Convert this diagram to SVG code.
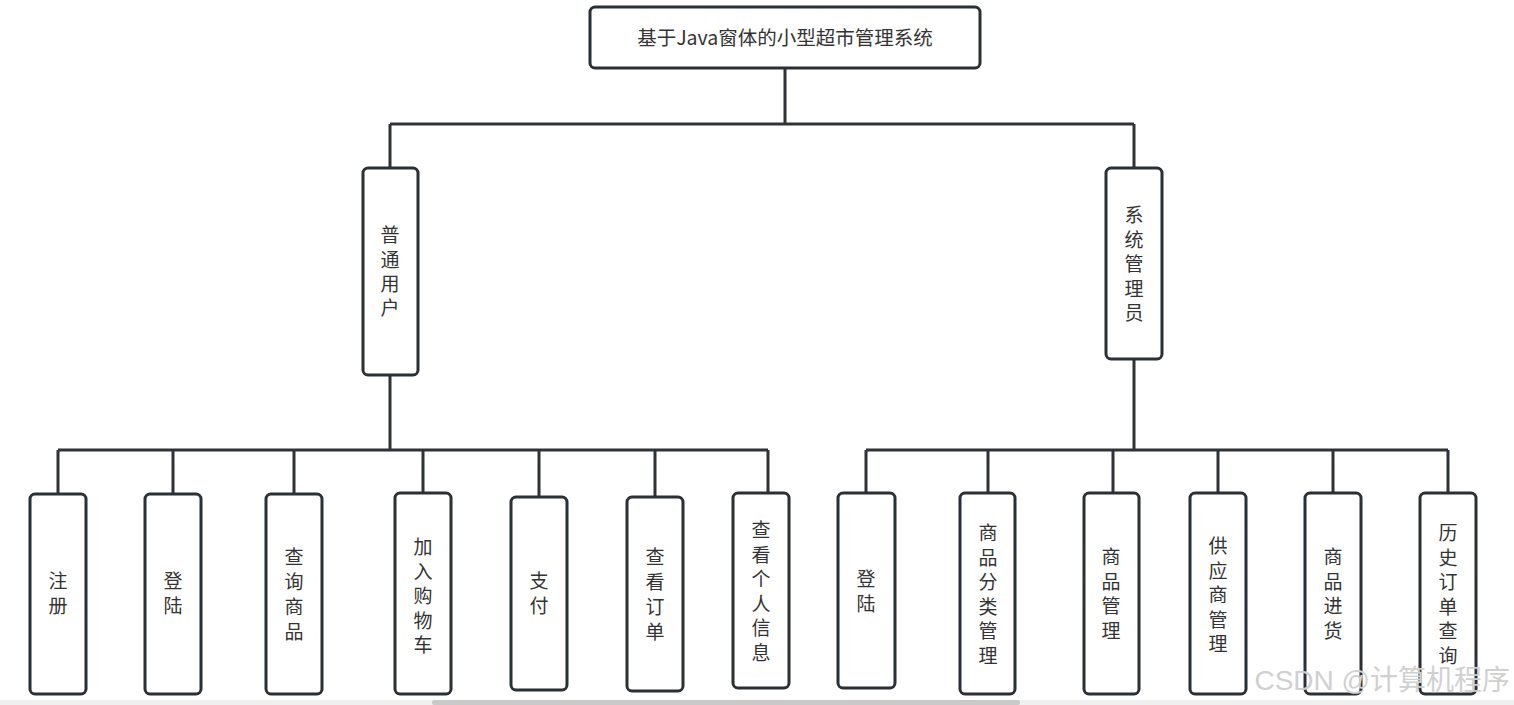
<svg xmlns="http://www.w3.org/2000/svg" width="1514" height="705" viewBox="0 0 1514 705">
<style>
.box{fill:#fff;stroke:#2b3036;stroke-width:3}
.ln{stroke:#2f3236;stroke-width:3;fill:none}
.t{font-family:"Noto Sans CJK SC","Noto Sans",sans-serif;font-size:19px;fill:#333;text-anchor:middle}
.title{font-family:"Noto Sans CJK SC","Noto Sans",sans-serif;font-size:19.5px;fill:#333;text-anchor:middle}
</style>
<rect width="1514" height="705" fill="#fff"/>
<g id="connectors">
<path class="ln" d="M785 68V124M390 124H1134M390 124V168M1134 124V168"/>
<path class="ln" d="M390 375V450M58 450H768M58 450V494M173 450V494M294 450V494M423 450V493M539 450V497M655 450V497M768 450V493"/>
<path class="ln" d="M1134 359V450M866 450H1448M866 450V493M988 450V493M1113 450V493M1218 450V493M1333 450V493M1448 450V493"/>
</g>
<g id="root"><rect class="box" x="590" y="7" width="390" height="61" rx="5"/><text class="title" x="785" y="45">基于Java窗体的小型超市管理系统</text></g>
<g id="user"><rect class="box" x="363" y="168" width="55" height="207" rx="5"/><text class="t" x="390"><tspan x="390" y="242">普</tspan><tspan x="390" y="267">通</tspan><tspan x="390" y="291">用</tspan><tspan x="390" y="315">户</tspan></text></g>
<g id="admin"><rect class="box" x="1106" y="168" width="56" height="191" rx="5"/><text class="t"><tspan x="1134" y="222">系</tspan><tspan x="1134" y="246.5">统</tspan><tspan x="1134" y="271">管</tspan><tspan x="1134" y="295.5">理</tspan><tspan x="1134" y="320">员</tspan></text></g>
<g id="u1"><rect class="box" x="30" y="494" width="56" height="200" rx="5"/><text class="t"><tspan x="58" y="588">注</tspan><tspan x="58" y="613">册</tspan></text></g>
<g id="u2"><rect class="box" x="145" y="494" width="56" height="200" rx="5"/><text class="t"><tspan x="173" y="588">登</tspan><tspan x="173" y="613">陆</tspan></text></g>
<g id="u3"><rect class="box" x="266" y="494" width="56" height="200" rx="5"/><text class="t"><tspan x="294" y="564">查</tspan><tspan x="294" y="589">询</tspan><tspan x="294" y="614">商</tspan><tspan x="294" y="639">品</tspan></text></g>
<g id="u4"><rect class="box" x="395" y="493" width="56" height="201" rx="5"/><text class="t"><tspan x="423" y="554">加</tspan><tspan x="423" y="578.5">入</tspan><tspan x="423" y="603">购</tspan><tspan x="423" y="627.5">物</tspan><tspan x="423" y="652">车</tspan></text></g>
<g id="u5"><rect class="box" x="511" y="497" width="56" height="193" rx="5"/><text class="t"><tspan x="539" y="588">支</tspan><tspan x="539" y="613">付</tspan></text></g>
<g id="u6"><rect class="box" x="627" y="497" width="56" height="194" rx="5"/><text class="t"><tspan x="655" y="564">查</tspan><tspan x="655" y="589">看</tspan><tspan x="655" y="614">订</tspan><tspan x="655" y="638.5">单</tspan></text></g>
<g id="u7"><rect class="box" x="733" y="493" width="56" height="195" rx="5"/><text class="t"><tspan x="761" y="537">查</tspan><tspan x="761" y="561.5">看</tspan><tspan x="761" y="586">个</tspan><tspan x="761" y="610.5">人</tspan><tspan x="761" y="635">信</tspan><tspan x="761" y="659.5">息</tspan></text></g>
<g id="a1"><rect class="box" x="838" y="493" width="57" height="195" rx="5"/><text class="t"><tspan x="866" y="586">登</tspan><tspan x="866" y="611">陆</tspan></text></g>
<g id="a2"><rect class="box" x="960" y="493" width="55" height="201" rx="5"/><text class="t"><tspan x="988" y="540">商</tspan><tspan x="988" y="564.5">品</tspan><tspan x="988" y="589">分</tspan><tspan x="988" y="613.5">类</tspan><tspan x="988" y="638">管</tspan><tspan x="988" y="662.5">理</tspan></text></g>
<g id="a3"><rect class="box" x="1084" y="493" width="55" height="201" rx="5"/><text class="t"><tspan x="1111" y="564">商</tspan><tspan x="1111" y="588.5">品</tspan><tspan x="1111" y="613">管</tspan><tspan x="1111" y="637.5">理</tspan></text></g>
<g id="a4"><rect class="box" x="1190" y="493" width="56" height="201" rx="5"/><text class="t"><tspan x="1218" y="553">供</tspan><tspan x="1218" y="577.5">应</tspan><tspan x="1218" y="602">商</tspan><tspan x="1218" y="626.5">管</tspan><tspan x="1218" y="651">理</tspan></text></g>
<g id="a5"><rect class="box" x="1305" y="493" width="56" height="201" rx="5"/><text class="t"><tspan x="1333" y="564">商</tspan><tspan x="1333" y="588.5">品</tspan><tspan x="1333" y="613">进</tspan><tspan x="1333" y="637.5">货</tspan></text></g>
<g id="a6"><rect class="box" x="1420" y="493" width="56" height="201" rx="5"/><text class="t"><tspan x="1448" y="540">历</tspan><tspan x="1448" y="564.5">史</tspan><tspan x="1448" y="589">订</tspan><tspan x="1448" y="613.5">单</tspan><tspan x="1448" y="638">查</tspan><tspan x="1448" y="662.5">询</tspan></text></g>
<rect x="0" y="700" width="1514" height="5" fill="#f0f0f0"/>
<rect x="432" y="700" width="588" height="5" rx="2" fill="#c9c9c9"/>
<text x="1510" y="690" font-family="Liberation Sans,'Noto Sans CJK SC',sans-serif" font-size="28" fill="#d0d0d0" text-anchor="end">CSDN @计算机程序</text>
</svg>
